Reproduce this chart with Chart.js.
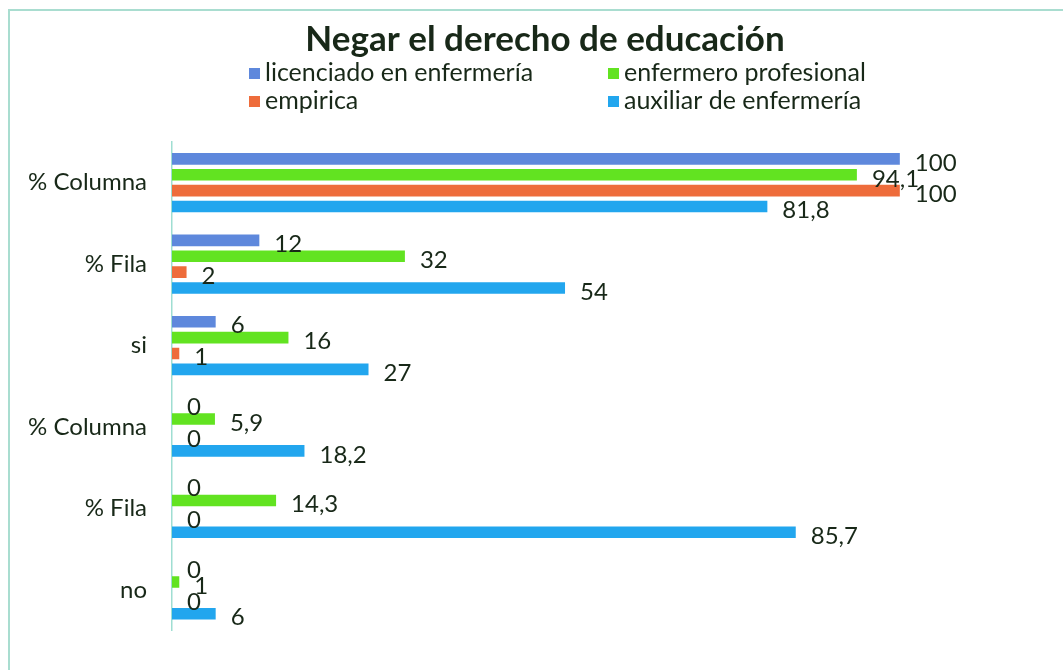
<!DOCTYPE html>
<html>
<head>
<meta charset="utf-8">
<script src="https://cdn.jsdelivr.net/npm/chart.js@4.4.1/dist/chart.umd.min.js"></script>
<style>
  html, body { margin: 0; padding: 0; background: #ffffff; overflow: hidden; }
  #wrap { position: relative; width: 1063px; height: 670px; }
  #frame { position: absolute; left: 8px; top: 9px; width: 1200px; height: 800px;
           border-top: 2px solid #a9ddd0; border-left: 2px solid #a9ddd0; box-sizing: border-box; }
  canvas { position: absolute; left: 0; top: 0; }
</style>
</head>
<body>
<div id="wrap">
  <div id="frame"></div>
  <canvas id="c" width="1063" height="670"></canvas>
</div>
<script>
const chartTitle = "Negar el derecho de educación";
const categories = ["% Columna", "% Fila", "si", "% Columna", "% Fila", "no"];
const seriesNames = ["licenciado en enfermería", "enfermero profesional", "empirica", "auxiliar de enfermería"];
const licenciado = [100, 12, 6, 0, 0, 0];
const enfermero  = [94.1, 32, 16, 5.9, 14.3, 1];
const empirica   = [100, 2, 1, 0, 0, 0];
const auxiliar   = [81.8, 54, 27, 18.2, 85.7, 6];
const seriesColors = ["#5e88dc", "#62e321", "#ee6c3b", "#22a6ee"];

const textColor = "#182818";
const fontFamily = "Lato, 'Open Sans', sans-serif";

const valueLabels = {
  id: "valueLabels",
  afterDatasetsDraw(chart) {
    const ctx = chart.ctx;
    ctx.save();
    ctx.font = "24px " + fontFamily;
    ctx.fillStyle = textColor;
    ctx.textAlign = "left";
    ctx.textBaseline = "middle";
    chart.data.datasets.forEach((ds, i) => {
      const meta = chart.getDatasetMeta(i);
      meta.data.forEach((bar, j) => {
        const v = ds.data[j];
        ctx.fillText(String(v).replace(".", ","), bar.x + 15, bar.y + 4);
      });
    });
    ctx.restore();
  }
};

const titleAndLegend = {
  id: "titleAndLegend",
  afterDraw(chart) {
    const ctx = chart.ctx;
    ctx.save();
    ctx.fillStyle = textColor;
    ctx.textAlign = "center";
    ctx.textBaseline = "middle";
    ctx.font = "bold 35px " + fontFamily;
    ctx.fillText(chartTitle, 545, 40);

    ctx.font = "25px " + fontFamily;
    ctx.textAlign = "left";
    const cols = [249, 608];
    const rows = [73, 101];
    // column-major order: col1 = series 0,2 ; col2 = series 1,3
    const pos = [[0, 0], [1, 0], [0, 1], [1, 1]];
    chart.data.datasets.forEach((ds, i) => {
      const [c, r] = pos[i];
      const x = cols[c], y = rows[r];
      ctx.fillStyle = ds.backgroundColor;
      ctx.fillRect(x, y - 5, 11, 11);
      ctx.fillStyle = textColor;
      ctx.fillText(ds.label, x + 16, y);
    });
    ctx.restore();
  }
};

new Chart(document.getElementById("c"), {
  type: "bar",
  data: {
    labels: categories,
    datasets: [
      { label: seriesNames[0], data: licenciado, backgroundColor: seriesColors[0] },
      { label: seriesNames[1], data: enfermero,  backgroundColor: seriesColors[1] },
      { label: seriesNames[2], data: empirica,   backgroundColor: seriesColors[2] },
      { label: seriesNames[3], data: auxiliar,   backgroundColor: seriesColors[3] }
    ]
  },
  options: {
    indexAxis: "y",
    responsive: false,
    animation: false,
    devicePixelRatio: 1,
    categoryPercentage: 0.78,
    barPercentage: 0.73,
    layout: { padding: { left: 0, right: 54, top: 142, bottom: 21 } },
    plugins: {
      legend: { display: false },
      tooltip: { enabled: false },
      title: { display: false }
    },
    scales: {
      x: { display: false, min: 0, max: 115 },
      y: {
        afterFit(scale) { scale.width = 172; },
        grid: { display: false, drawTicks: false },
        border: { display: true, color: "#9fded2", width: 1.5 },
        ticks: { color: textColor, padding: 25, font: { family: fontFamily, size: 24 } }
      }
    }
  },
  plugins: [valueLabels, titleAndLegend]
});
</script>
</body>
</html>
